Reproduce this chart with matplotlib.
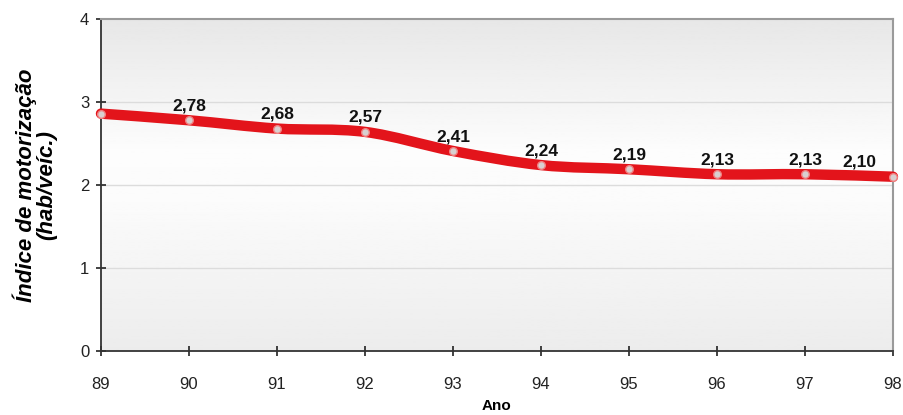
import numpy as np
import matplotlib
matplotlib.use("Agg")
import matplotlib.pyplot as plt
from matplotlib.path import Path
from matplotlib.patches import PathPatch

plt.rcParams['font.family'] = ['Liberation Sans', 'DejaVu Sans']

# Data
anos = [89, 90, 91, 92, 93, 94, 95, 96, 97, 98]
indice = [2.86, 2.78, 2.68, 2.64, 2.41, 2.24, 2.19, 2.13, 2.13, 2.10]
rotulos = ["", "2,78", "2,68", "2,57", "2,41", "2,24", "2,19", "2,13", "2,13", "2,10"]

fig = plt.figure(figsize=(9.04, 4.15), dpi=100)
ax = fig.add_axes([0.1117, 0.1542, 0.8761, 0.8])
ax.set_xlim(89, 98)
ax.set_ylim(0, 4)

# background gradient: grey at top, near white in the middle, grey at bottom
grad = np.interp(np.linspace(0, 1, 200), [0, 0.45, 0.6, 1.0], [0.925, 0.985, 0.99, 0.905])
ax.imshow(grad[:, None], cmap="gray", vmin=0, vmax=1, aspect="auto",
          extent=(89, 98, 0, 4), origin="lower", zorder=0)

for yv in [1, 2, 3]:
    ax.axhline(yv, color="#dcdcdc", lw=1.0, zorder=1)

# smooth curve through the points (cubic bezier, Catmull-Rom tangents)
x = np.array(anos, float)
y = np.array(indice, float)
verts = [(x[0], y[0])]
codes = [Path.MOVETO]
for i in range(len(x) - 1):
    x0, y0 = (x[i - 1], y[i - 1]) if i > 0 else (x[i], y[i])
    x3, y3 = (x[i + 2], y[i + 2]) if i + 2 < len(x) else (x[i + 1], y[i + 1])
    c1 = (x[i] + (x[i + 1] - x0) / 6, y[i] + (y[i + 1] - y0) / 6)
    c2 = (x[i + 1] - (x3 - x[i]) / 6, y[i + 1] - (y3 - y[i]) / 6)
    verts += [c1, c2, (x[i + 1], y[i + 1])]
    codes += [Path.CURVE4] * 3
ax.add_patch(PathPatch(Path(verts, codes), facecolor="none", edgecolor="#e3141b",
                       lw=7.5, capstyle="round", zorder=3, clip_on=False))

ax.plot(anos, indice, "o", ms=5.5, mfc="#d8d0d0", mec="#f08080", mew=1.0,
        zorder=4, clip_on=False)

for i, (xa, yi, t) in enumerate(zip(anos, indice, rotulos)):
    if not t:
        continue
    dx = -24 if i == len(anos) - 1 else 0
    ax.annotate(t, (xa, yi), xytext=(dx, 5), textcoords="offset points",
                ha="center", va="bottom", fontsize=12.5, fontweight="bold",
                color="#111111", zorder=5)

ax.set_xticks(anos)
ax.set_yticks([0, 1, 2, 3, 4])
ax.tick_params(axis="both", labelsize=12, colors="#222222", length=4, width=1.2)
ax.tick_params(axis="x", direction="inout", length=7, pad=15)
ax.tick_params(axis="y", direction="inout", length=7, pad=5)
for s in ["left", "bottom"]:
    ax.spines[s].set_color("#333333")
    ax.spines[s].set_linewidth(1.3)
for s in ["top", "right"]:
    ax.spines[s].set_color("#9a9a9a")
    ax.spines[s].set_linewidth(1.5)

ax.set_ylabel("Índice de motorização\n(hab/veíc.)", fontsize=16,
              fontweight="bold", style="italic", labelpad=16, linespacing=1.0)
ax.set_xlabel("Ano", fontsize=11, fontweight="bold", labelpad=5)

fig.savefig("out.png", dpi=100)
